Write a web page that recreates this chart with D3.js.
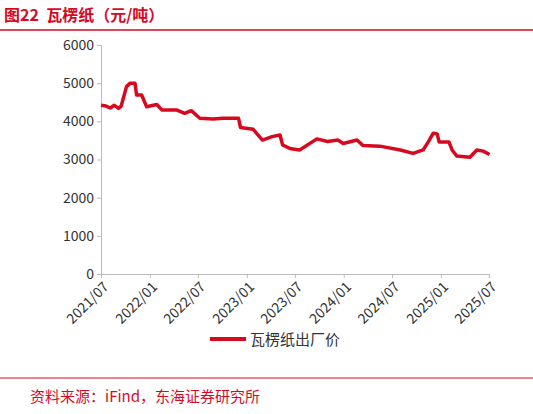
<!DOCTYPE html><html><head><meta charset="utf-8"><script src="https://cdn.jsdelivr.net/npm/d3@7"></script>
<style>body{margin:0;background:#fff}</style></head><body><svg id="c" width="533" height="414"></svg>
<script>
const dates=["2021-07-01","2021-07-20","2021-08-05","2021-08-20","2021-09-05","2021-09-15","2021-10-05","2021-10-18","2021-11-06","2021-11-12","2021-12-01","2021-12-20","2022-01-27","2022-02-15","2022-04-11","2022-05-12","2022-06-06","2022-07-08","2022-08-27","2022-10-03","2022-12-01","2022-12-08","2023-01-25","2023-03-01","2023-04-06","2023-05-06","2023-05-16","2023-06-12","2023-07-19","2023-09-22","2023-11-01","2023-12-10","2023-12-30","2024-02-20","2024-03-13","2024-05-16","2024-08-01","2024-09-18","2024-10-26","2024-11-15","2024-12-03","2024-12-18","2024-12-25","2025-01-31","2025-02-12","2025-03-02","2025-04-20","2025-05-16","2025-06-09","2025-07-03"];
const values=[4420,4400,4350,4420,4340,4400,4910,4995,4995,4690,4690,4380,4440,4300,4300,4210,4280,4080,4060,4080,4080,3840,3790,3510,3600,3640,3380,3290,3250,3540,3470,3510,3420,3510,3370,3350,3250,3160,3250,3470,3690,3670,3460,3460,3250,3090,3060,3250,3220,3130];
const yTicks=[0,1000,2000,3000,4000,5000,6000];
const xTicks=["2021/07","2022/01","2022/07","2023/01","2023/07","2024/01","2024/07","2025/01","2025/07"];
const seriesName="瓦楞纸出厂价";
const svg=d3.select("#c"),red="#d7091f",f="'Noto Sans CJK SC',sans-serif";
const p=d3.timeParse("%Y-%m-%d"),pt=d3.timeParse("%Y/%m");
const x=d3.scaleTime().domain([pt("2021/07"),pt("2025/07")]).range([101,489]);
const y=d3.scaleLinear().domain([0,6000]).range([274,45]);
svg.append("text").attr("x",4).attr("y",21).attr("fill",red).attr("font-family",f).attr("font-weight","bold").attr("font-size",16).attr("xml:space","preserve").style("white-space","pre").text("图22  瓦楞纸（元/吨）");
svg.append("line").attr("x1",0).attr("x2",533).attr("y1",30).attr("y2",30).attr("stroke",red).attr("stroke-width",1.5);
const ya=svg.append("g").attr("transform","translate(101,0)").call(d3.axisLeft(y).tickValues(yTicks).tickSize(4).tickFormat(d3.format("d")));
ya.selectAll("text").attr("font-family",f).attr("font-size",14).attr("fill","#333");
ya.selectAll("line,path").attr("stroke","#bbb");
const xa=svg.append("g").attr("transform","translate(0,274)").call(d3.axisBottom(x).tickValues(xTicks.map(pt)).tickSize(4).tickFormat((d,i)=>xTicks[i]));
xa.selectAll("line,path").attr("stroke","#bbb");
xa.selectAll("text").attr("font-family",f).attr("font-size",14).attr("fill","#333").attr("text-anchor","end").attr("dx","-0.3em").attr("dy","0.6em").attr("transform","rotate(-45)");
svg.append("path").datum(dates.map((d,i)=>[p(d),values[i]])).attr("fill","none").attr("stroke",red).attr("stroke-width",3.5).attr("stroke-linejoin","round").attr("d",d3.line().x(d=>x(d[0])).y(d=>y(d[1])));
svg.append("line").attr("x1",210).attr("x2",246).attr("y1",339).attr("y2",339).attr("stroke",red).attr("stroke-width",4);
svg.append("text").attr("x",250).attr("y",345).attr("font-family",f).attr("font-size",15).attr("fill","#333").text(seriesName);
svg.append("line").attr("x1",0).attr("x2",533).attr("y1",378).attr("y2",378).attr("stroke",red).attr("stroke-width",1);
svg.append("text").attr("x",30).attr("y",402).attr("font-family",f).attr("font-size",15).attr("fill",red).text("资料来源：iFind，东海证券研究所");
</script></body></html>
